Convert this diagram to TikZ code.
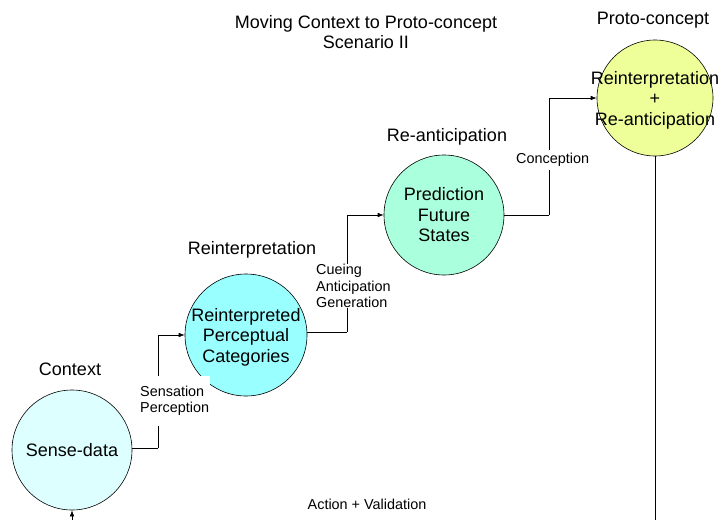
\documentclass[tikz,border=0pt]{standalone}
\usepackage{fontspec}
\setmainfont{Liberation Sans}
\usetikzlibrary{arrows.meta}
\definecolor{cSD}{HTML}{DDFFFF}
\definecolor{cRP}{HTML}{99FFFF}
\definecolor{cPF}{HTML}{AAFFDD}
\definecolor{cPC}{HTML}{EEFF99}
\tikzset{
  bubble/.style={circle, draw=black, line width=0.6pt, inner sep=0pt},
  big/.style={font=\fontsize{18}{20.5}\selectfont, align=center, inner sep=0pt},
  small/.style={font=\fontsize{14.4}{16.5}\selectfont, align=left, inner sep=0pt},
  conn/.style={line width=0.6pt},
  arr/.style={line width=0.6pt, -{Latex[length=6pt,width=4.5pt]}},
  blank/.style={fill=white}
}
\begin{document}
\begin{tikzpicture}[x=1pt,y=-1pt]
\useasboundingbox (0,0) rectangle (721,520);
% circles
\node[bubble, fill=cSD, minimum size=120pt] (sd) at (72,450) {};
\node[bubble, fill=cRP, minimum size=122pt] (rp) at (246,335) {};
\node[bubble, fill=cPF, minimum size=120pt] (pf) at (444,215) {};
\node[bubble, fill=cPC, minimum size=116pt] (pc) at (655,98) {};
% circle texts
\node[big] (sdt) at (sd.center) {Sense-data};
\node[big] (rpt) at (246,337) {Reinterpreted\\Perceptual\\Categories};
\node[big] (pft) at (444,215) {Prediction\\Future\\States};
\node[big] (pct) at (655,100) {Reinterpretation\\+\\Re-anticipation};
% headings
\node[big, align=center] (title) at (366,32) {Moving Context to Proto-concept\\Scenario II};
\node[big] (lctx) at (70,369) {Context};
\node[big] (lre) at (252,250) {Reinterpretation};
\node[big] (lra) at (447,137) {Re-anticipation};
\node[big] (lpc) at (653,20) {Proto-concept};
% connectors
\coordinate (b1) at (158,448);
\coordinate (b2) at (347,332);
\coordinate (b3) at (549,215);
\draw[conn] (sd.east |- b1) -- (b1);
\draw[arr] (b1) |- (rp.west);
\draw[conn] (rp.east |- b2) -- (b2);
\draw[arr] (b2) |- (pf.west);
\draw[conn] (pf.east) -- (b3);
\draw[arr] (b3) |- (pc.west);
\coordinate (bot1) at (655,520);
\coordinate (bot2) at (72,520);
\draw[conn] (pc.south) -- (bot1);
\draw[arr] (bot2) -- (sd.south);
% connector labels
\node[small, blank, inner ysep=10pt, inner xsep=1pt, anchor=west] (lsp) at (139,401) {Sensation\\Perception};
\node[small, blank, anchor=west] (lcu) at (316,286) {Cueing\\Anticipation\\Generation};
\node[small, blank, inner ysep=3pt, anchor=west] (lco) at (516,160) {Conception};
\node[small] (lav) at (367,504) {Action + Validation};
\end{tikzpicture}
\end{document}
